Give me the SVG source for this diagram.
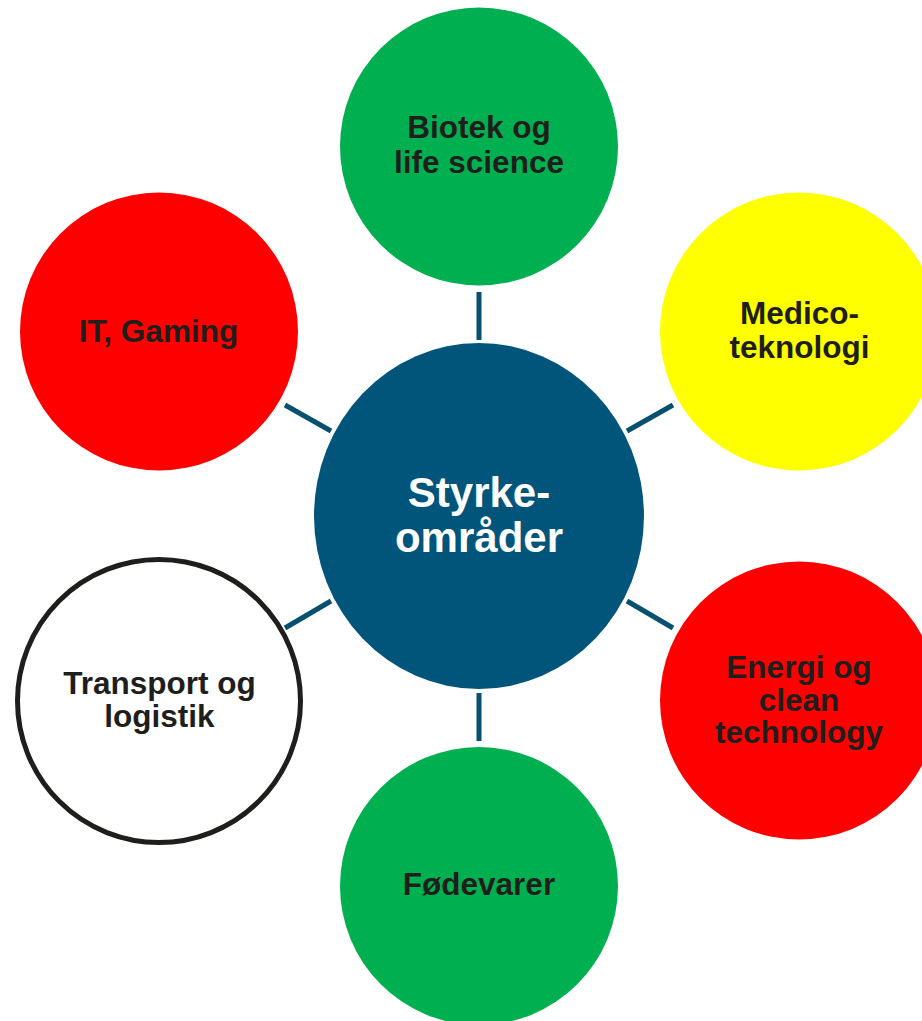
<svg xmlns="http://www.w3.org/2000/svg" width="922" height="1021" viewBox="0 0 922 1021">
<style>
.lbl{font-family:"Liberation Sans",Arial,sans-serif;font-weight:bold;font-size:31.5px;fill:#1e1e1c;text-anchor:middle}
.ctr{font-family:"Liberation Sans",Arial,sans-serif;font-weight:bold;font-size:42px;fill:#ffffff;text-anchor:middle}
.conn line{stroke:#08506F;stroke-width:5}
</style>
<rect width="922" height="1021" fill="#ffffff"/>
<g class="conn" id="connectors">
<line x1="479" y1="292" x2="479" y2="340"/>
<line x1="479" y1="693" x2="479" y2="741"/>
<line x1="285" y1="405" x2="331" y2="431"/>
<line x1="627" y1="431" x2="673" y2="405"/>
<line x1="285" y1="628" x2="331" y2="601"/>
<line x1="627" y1="601" x2="673" y2="628"/>
</g>
<g id="center">
<ellipse cx="479" cy="516" rx="165" ry="173" fill="#02557A"/>
<text class="ctr" x="479" y="507">Styrke-</text>
<text class="ctr" x="479" y="552">områder</text>
</g>
<g id="biotek">
<circle cx="479" cy="146.5" r="139" fill="#00B050"/>
<text class="lbl" x="479" y="138">Biotek og</text>
<text class="lbl" x="479" y="173">life science</text>
</g>
<g id="medico">
<circle cx="799" cy="331.5" r="139" fill="#FFFF00"/>
<text class="lbl" x="799.5" y="324">Medico-</text>
<text class="lbl" x="799.5" y="357.5">teknologi</text>
</g>
<g id="energi">
<circle cx="799" cy="700.5" r="139" fill="#FF0000"/>
<text class="lbl" x="799" y="678">Energi og</text>
<text class="lbl" x="799" y="710.5">clean</text>
<text class="lbl" x="799" y="743">technology</text>
</g>
<g id="foedevarer">
<circle cx="479" cy="886" r="139" fill="#00B050"/>
<text class="lbl" x="479" y="895">Fødevarer</text>
</g>
<g id="transport">
<circle cx="159" cy="701" r="141.5" fill="#ffffff" stroke="#1e1e1c" stroke-width="5"/>
<text class="lbl" x="159.5" y="694">Transport og</text>
<text class="lbl" x="159.5" y="727">logistik</text>
</g>
<g id="it">
<circle cx="159" cy="331.5" r="139" fill="#FF0000"/>
<text class="lbl" x="158.5" y="342">IT, Gaming</text>
</g>
</svg>
